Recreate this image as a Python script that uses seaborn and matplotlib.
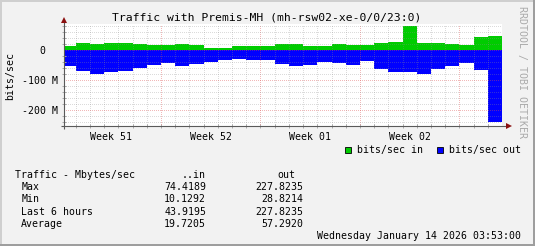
import numpy as np
import pandas as pd
import matplotlib
matplotlib.use("Agg")
import matplotlib.pyplot as plt
import seaborn as sns
from matplotlib.patches import Rectangle
from matplotlib.lines import Line2D

# ---------------- data ----------------
# daily bins (days counted from Monday of week 51; first bin is partial)
day_start = [0.24] + list(range(1, 31))
day_end = list(range(1, 32))
in_mbits = [13, 23, 20, 23, 23, 21, 18, 18, 20, 17, 9, 9, 13, 13, 13, 21,
            21, 14, 14, 20, 17, 17, 23, 29, 81, 24, 24, 21, 18, 44, 48]
out_mbits = [52, 69, 79, 72, 69, 59, 49, 43, 52, 46, 39, 32, 30, 33, 33, 46,
             52, 49, 40, 42, 49, 37, 62, 71, 71, 78, 61, 51, 42, 67, 238]
week_labels = ["Week 51", "Week 52", "Week 01", "Week 02"]
week_centers = [3.5, 10.5, 17.5, 24.5]
ytick_vals = [-200, -100, 0]
ytick_labels = ["-200 M", "-100 M", "0  "]

title = "Traffic with Premis-MH (mh-rsw02-xe-0/0/23:0)"
legend_labels = ["bits/sec in", "bits/sec out"]
stat_header = ["Traffic - Mbytes/sec", "..in", "out"]
stat_names = ["Max", "Min", "Last 6 hours", "Average"]
stat_in = ["74.4189", "10.1292", "43.9195", "19.7205"]
stat_out = ["227.8235", "28.8214", "227.8235", "57.2920"]
date_text = "Wednesday January 14 2026 03:53:00"

GREEN = "#00CC00"
BLUE = "#0000FF"
MONO = ["DejaVu Sans Mono"]

# ---------------- figure ----------------
W, H = 535, 246
fig = plt.figure(figsize=(W / 100, H / 100), dpi=100, facecolor="#F2F2F2")
plt.rcParams["font.family"] = MONO

def fx(x):
    return x / W

def fy(y):
    return 1 - y / H

ax = fig.add_axes([fx(64), fy(126), 438 / W, 102 / H])
ax.set_facecolor("white")

edges = day_start + [day_end[-1]]
centers = [(a + b) / 2 for a, b in zip(day_start, day_end)]
df = pd.DataFrame({"t": centers, "in": in_mbits, "out": [-v for v in out_mbits]})

sns.histplot(data=df, x="t", weights="in", bins=edges, color=GREEN, alpha=1,
             linewidth=0, element="bars", fill=True, ax=ax)
sns.histplot(data=df, x="t", weights="out", bins=edges, color=BLUE, alpha=1,
             linewidth=0, element="bars", fill=True, ax=ax)
for p in ax.patches:
    p.set_antialiased(False)
    p.set_zorder(1)

ax.set_xlim(0.17, 31.0)
ax.set_ylim(-252, 87.7)
ax.set_xlabel("")
ax.set_ylabel("")

# grid (rrdtool style, dotted, drawn over the graph)
grid_c = (0.56, 0.56, 0.56, 0.32)
mgrid_c = (0.87, 0.31, 0.31, 0.4)
ls = (0, (1, 1.4))
lw = 0.72
for d in range(1, 31):
    c = mgrid_c if d % 7 == 0 else grid_c
    ln = ax.axvline(d, color=c, ls=ls, lw=lw, zorder=3)
    ln.set_antialiased(False)
for v in range(-240, 81, 20):
    c = mgrid_c if v % 100 == 0 else grid_c
    ln = ax.axhline(v, color=c, ls=ls, lw=lw, zorder=3)
    ln.set_antialiased(False)

for s in ax.spines.values():
    s.set_visible(False)

# ticks
ax.set_xticks(week_centers)
ax.set_xticklabels(week_labels, fontsize=7.1, family=MONO)
ax.set_xticks(list(range(1, 31)), minor=True)
ax.tick_params(axis="x", which="major", length=0, pad=4.2)
ax.tick_params(axis="x", which="minor", length=2.2, direction="inout",
               color="#AAAAAA", width=0.7)
ax.set_yticks(ytick_vals)
ax.set_yticklabels(ytick_labels, fontsize=7.1, family=MONO)
ax.set_yticks(list(range(-240, 81, 20)), minor=True)
ax.tick_params(axis="y", which="major", length=0, pad=4.3)
ax.tick_params(axis="y", which="minor", length=2.2, direction="inout",
               color="#AAAAAA", width=0.7)

# axes lines with arrows
axis_c = "#5A5A5A"
arrow_c = "#8B1010"
ax.plot([0, 0], [-0.03, 1.04], transform=ax.transAxes, color=axis_c, lw=0.8,
        clip_on=False, zorder=5, solid_capstyle="butt")
ax.plot([-0.007, 1.01], [0, 0], transform=ax.transAxes, color=axis_c, lw=0.8,
        clip_on=False, zorder=5, solid_capstyle="butt")
ax.plot([0], [1.035], transform=ax.transAxes, marker="^", color=arrow_c,
        markersize=4.2, clip_on=False, zorder=6, mew=0)
ax.plot([1.017], [0], transform=ax.transAxes, marker=">", color=arrow_c,
        markersize=4.2, clip_on=False, zorder=6, mew=0)

# texts
fig.text(fx(266.5), fy(17), title, ha="center", va="center", fontsize=8.2,
         family=MONO, color="black")
fig.text(fx(10.5), fy(76), "bits/sec", ha="center", va="center", rotation=90,
         fontsize=7.1, family=MONO)
fig.text(fx(522.5), fy(71.5), "RRDTOOL / TOBI OETIKER", ha="center", va="center",
         rotation=270, fontsize=7.1, family=MONO, color="#AAAAAA")

# legend
for (x0, lab, col) in [(344.7, legend_labels[0], GREEN), (436.7, legend_labels[1], BLUE)]:
    fig.patches.append(Rectangle((fx(x0), fy(153.3)), 6.6 / W, 6.6 / H,
                                 transform=fig.transFigure, facecolor=col,
                                 edgecolor="black", linewidth=0.6))
    fig.text(fx(x0 + 12.6), fy(150), lab, ha="left", va="center",
             fontsize=7.1, family=MONO)

# stats table
row_y = [174.6, 187.2, 199.5, 211.8, 224.1]
fig.text(fx(15.4), fy(row_y[0]), stat_header[0], ha="left", va="center",
         fontsize=7.1, family=MONO)
fig.text(fx(206.1), fy(row_y[0]), stat_header[1], ha="right", va="center",
         fontsize=7.1, family=MONO)
fig.text(fx(295.6), fy(row_y[0]), stat_header[2], ha="right", va="center",
         fontsize=7.1, family=MONO)
for i, name in enumerate(stat_names):
    y = row_y[i + 1]
    fig.text(fx(21.3), fy(y), name, ha="left", va="center", fontsize=7.1, family=MONO)
    fig.text(fx(206.1), fy(y), stat_in[i], ha="right", va="center", fontsize=7.1, family=MONO)
    fig.text(fx(303.7), fy(y), stat_out[i], ha="right", va="center", fontsize=7.1, family=MONO)
fig.text(fx(521.2), fy(236.4), date_text, ha="right", va="center",
         fontsize=7.1, family=MONO)

# frame shading
fig.lines.append(Line2D([0, 1], [1 - 0.5 / H] * 2, transform=fig.transFigure,
                        color="#CFCFCF", lw=1.44))
fig.lines.append(Line2D([0.5 / W] * 2, [0, 1], transform=fig.transFigure,
                        color="#CFCFCF", lw=1.44))
fig.lines.append(Line2D([0, 1], [1 / H] * 2, transform=fig.transFigure,
                        color="#9E9E9E", lw=1.44))
fig.lines.append(Line2D([1 - 1 / W] * 2, [0, 1], transform=fig.transFigure,
                        color="#9E9E9E", lw=1.44))

fig.savefig("out.png", dpi=100, facecolor=fig.get_facecolor())
